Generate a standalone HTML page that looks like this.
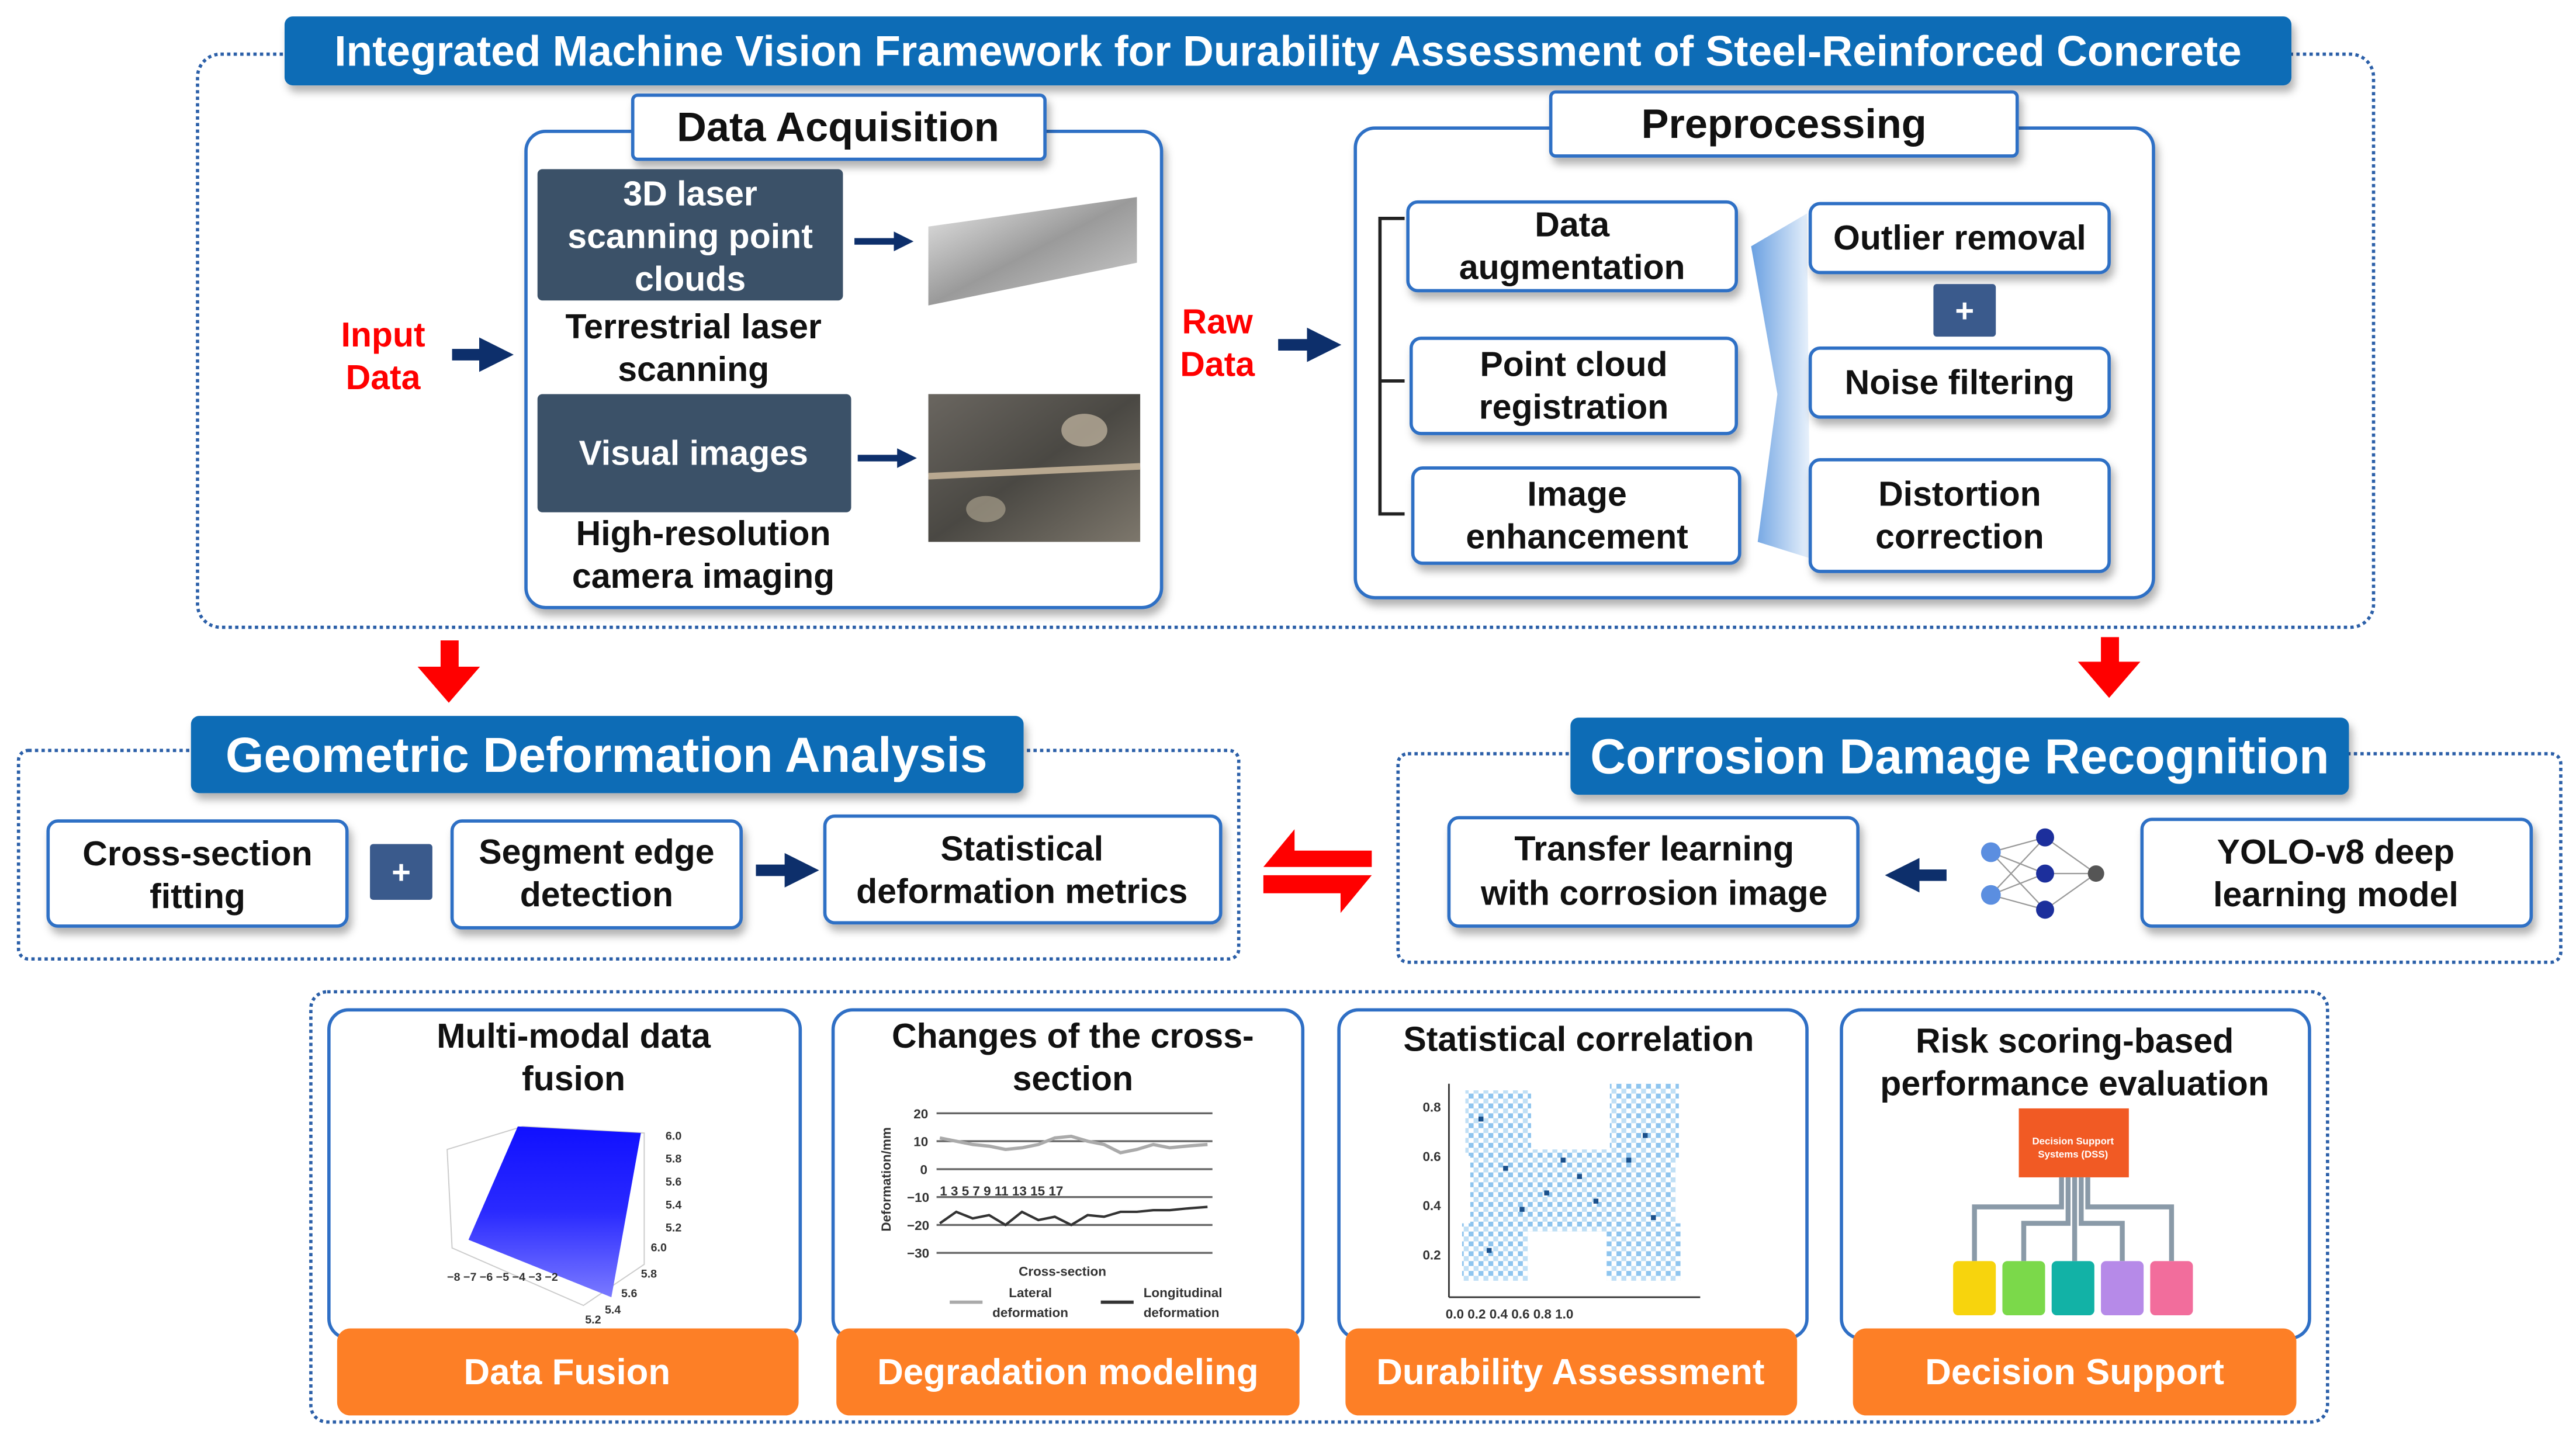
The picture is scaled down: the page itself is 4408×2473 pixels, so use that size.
<!DOCTYPE html>
<html><head><meta charset="utf-8"><style>
html,body{margin:0;padding:0;background:#fff}
svg{display:block}
text{font-family:"Liberation Sans",sans-serif;font-weight:bold}
</style></head><body>
<svg width="4408" height="2473" viewBox="0 0 1568 880" xmlns="http://www.w3.org/2000/svg">
<defs>
<filter id="sh" x="-10%" y="-10%" width="130%" height="140%"><feDropShadow dx="2" dy="4" stdDeviation="2.5" flood-color="#000" flood-opacity="0.3"/></filter>
<linearGradient id="wedge" x1="0" y1="0" x2="1" y2="0"><stop offset="0" stop-color="#4f8fdc"/><stop offset="1" stop-color="#e6f0fb"/></linearGradient>
<linearGradient id="scan" x1="0" y1="0" x2="1" y2="1"><stop offset="0" stop-color="#e8e8e8"/><stop offset="0.5" stop-color="#9a9a9a"/><stop offset="1" stop-color="#d0d0d0"/></linearGradient>
<linearGradient id="photo" x1="0" y1="0" x2="1" y2="1"><stop offset="0" stop-color="#6a6660"/><stop offset="0.5" stop-color="#4a4843"/><stop offset="1" stop-color="#7d776c"/></linearGradient>
<linearGradient id="surf" x1="0" y1="0" x2="0" y2="1"><stop offset="0" stop-color="#1010ff"/><stop offset="0.5" stop-color="#2a2aff"/><stop offset="1" stop-color="#7a7aff"/></linearGradient>
<marker id="ah" viewBox="0 0 10 10" refX="5" refY="5" markerWidth="3" markerHeight="3" orient="auto"><path d="M0,0L10,5L0,10z" fill="#0d2f6b"/></marker>
<pattern id="dots" width="6" height="6" patternUnits="userSpaceOnUse"><rect width="6" height="6" fill="#fff"/><rect x="0" y="0" width="3" height="3" fill="#4da3e6" opacity="0.7"/><rect x="3" y="3" width="3" height="3" fill="#8cc4ef" opacity="0.6"/></pattern>
</defs>

<rect x="120" y="33" width="1325" height="349" rx="14" fill="none" stroke="#2b5fa8" stroke-width="2" stroke-dasharray="2,2"/>
<rect x="173" y="10" width="1222" height="42" rx="5" fill="#0f6cb6" filter="url(#sh)"/>
<text x="784" y="40" text-anchor="middle" font-size="26" fill="#fff">Integrated Machine Vision Framework for Durability Assessment of Steel-Reinforced Concrete</text>

<rect x="320" y="80" width="387" height="290" rx="12" fill="#fff" stroke="#2f6fc5" stroke-width="2" filter="url(#sh)"/>
<rect x="385" y="58" width="251" height="39" rx="3" fill="#fff" stroke="#2f6fc5" stroke-width="2" filter="url(#sh)"/>
<text x="510" y="86" text-anchor="middle" font-size="25" fill="#111">Data Acquisition</text>
<rect x="327" y="103" width="186" height="80" rx="3" fill="#3b5168"/>
<text x="420" y="125" text-anchor="middle" font-size="21" fill="#fff">3D laser</text>
<text x="420" y="151" text-anchor="middle" font-size="21" fill="#fff">scanning point</text>
<text x="420" y="177" text-anchor="middle" font-size="21" fill="#fff">clouds</text>
<text x="422" y="206" text-anchor="middle" font-size="21" fill="#111">Terrestrial laser</text>
<text x="422" y="232" text-anchor="middle" font-size="21" fill="#111">scanning</text>
<rect x="327" y="240" width="191" height="72" rx="3" fill="#3b5168"/>
<text x="422" y="283" text-anchor="middle" font-size="21" fill="#fff">Visual images</text>
<text x="428" y="332" text-anchor="middle" font-size="21" fill="#111">High-resolution</text>
<text x="428" y="358" text-anchor="middle" font-size="21" fill="#111">camera imaging</text>
<line x1="520" y1="147" x2="550" y2="147" stroke="#0d2f6b" stroke-width="4" marker-end="url(#ah)"/>
<line x1="522" y1="279" x2="552" y2="279" stroke="#0d2f6b" stroke-width="4" marker-end="url(#ah)"/>
<polygon points="565,138 692,120 692,160 565,186" fill="url(#scan)"/>
<rect x="565" y="240" width="129" height="90" fill="url(#photo)"/>
<line x1="565" y1="290" x2="694" y2="284" stroke="#b8a890" stroke-width="4"/>
<ellipse cx="660" cy="262" rx="14" ry="10" fill="#c8bba5" opacity="0.7"/>
<ellipse cx="600" cy="310" rx="12" ry="8" fill="#b8ad98" opacity="0.6"/>

<text x="233" y="211" text-anchor="middle" font-size="21" fill="#f00">Input</text>
<text x="233" y="237" text-anchor="middle" font-size="21" fill="#f00">Data</text>
<line x1="275" y1="216" x2="302" y2="216" stroke="#0d2f6b" stroke-width="7" marker-end="url(#ah)"/>
<text x="741" y="203" text-anchor="middle" font-size="21" fill="#f00">Raw</text>
<text x="741" y="229" text-anchor="middle" font-size="21" fill="#f00">Data</text>
<line x1="778" y1="210" x2="806" y2="210" stroke="#0d2f6b" stroke-width="7" marker-end="url(#ah)"/>

<rect x="825" y="78" width="486" height="286" rx="12" fill="#fff" stroke="#2f6fc5" stroke-width="2" filter="url(#sh)"/>
<rect x="944" y="56" width="284" height="39" rx="3" fill="#fff" stroke="#2f6fc5" stroke-width="2" filter="url(#sh)"/>
<text x="1086" y="84" text-anchor="middle" font-size="25" fill="#111">Preprocessing</text>
<path d="M855,133 H840 V313 H855 M840,232 H855" fill="none" stroke="#222" stroke-width="2"/>
<polygon points="1066,150 1100,130 1102,340 1070,330 1082,240" fill="url(#wedge)" opacity="0.85"/>
<g fill="#fff" stroke="#2f6fc5" stroke-width="2" filter="url(#sh)">
<rect x="857" y="123" width="200" height="54" rx="6"/>
<rect x="859" y="206" width="198" height="58" rx="6"/>
<rect x="860" y="285" width="199" height="58" rx="6"/>
<rect x="1102" y="124" width="182" height="42" rx="6"/>
<rect x="1102" y="212" width="182" height="42" rx="6"/>
<rect x="1102" y="280" width="182" height="68" rx="6"/>
</g>
<rect x="1177" y="173" width="38" height="32" rx="2" fill="#3a5a8c"/>
<text x="1196" y="196" text-anchor="middle" font-size="20" fill="#fff">+</text>
<g font-size="21" fill="#111" text-anchor="middle">
<text x="957" y="144">Data</text><text x="957" y="170">augmentation</text>
<text x="958" y="229">Point cloud</text><text x="958" y="255">registration</text>
<text x="960" y="308">Image</text><text x="960" y="334">enhancement</text>
<text x="1193" y="152">Outlier removal</text>
<text x="1193" y="240">Noise filtering</text>
<text x="1193" y="308">Distortion</text><text x="1193" y="334">correction</text>
</g>

<polygon points="268,390 279,390 279,406 292,406 273,428 254,406 268,406" fill="#f00"/>
<polygon points="1279,388 1290,388 1290,403 1303,403 1284,425 1265,403 1279,403" fill="#f00"/>

<rect x="11" y="457" width="743" height="127" rx="6" fill="none" stroke="#2b5fa8" stroke-width="2" stroke-dasharray="2,2"/>
<rect x="116" y="436" width="507" height="47" rx="5" fill="#0f6cb6" filter="url(#sh)"/>
<text x="369" y="470" text-anchor="middle" font-size="30" fill="#fff">Geometric Deformation Analysis</text>
<g fill="#fff" stroke="#2f6fc5" stroke-width="2" filter="url(#sh)">
<rect x="29" y="500" width="182" height="64" rx="6"/>
<rect x="275" y="500" width="176" height="65" rx="6"/>
<rect x="502" y="497" width="241" height="65" rx="6"/>
</g>
<rect x="225" y="514" width="38" height="34" rx="2" fill="#3a5a8c"/>
<text x="244" y="538" text-anchor="middle" font-size="20" fill="#fff">+</text>
<line x1="460" y1="530" x2="488" y2="530" stroke="#0d2f6b" stroke-width="7" marker-end="url(#ah)"/>
<g font-size="21" fill="#111" text-anchor="middle">
<text x="120" y="527">Cross-section</text><text x="120" y="553">fitting</text>
<text x="363" y="526">Segment edge</text><text x="363" y="552">detection</text>
<text x="622" y="524">Statistical</text><text x="622" y="550">deformation metrics</text>
</g>
<polygon points="788,505 788,518 835,518 835,528 769,528" fill="#f00"/>
<polygon points="769,533 835,533 816,556 816,544 769,544" fill="#f00"/>

<rect x="851" y="459" width="708" height="127" rx="6" fill="none" stroke="#2b5fa8" stroke-width="2" stroke-dasharray="2,2"/>
<rect x="956" y="437" width="474" height="47" rx="5" fill="#0f6cb6" filter="url(#sh)"/>
<text x="1193" y="471" text-anchor="middle" font-size="30" fill="#fff">Corrosion Damage Recognition</text>
<g fill="#fff" stroke="#2f6fc5" stroke-width="2" filter="url(#sh)">
<rect x="882" y="498" width="249" height="66" rx="6"/>
<rect x="1304" y="499" width="237" height="65" rx="6"/>
</g>
<g font-size="21" fill="#111" text-anchor="middle">
<text x="1007" y="524">Transfer learning</text><text x="1007" y="551">with corrosion image</text>
<text x="1422" y="526">YOLO-v8 deep</text><text x="1422" y="552">learning model</text>
</g>
<line x1="1185" y1="533" x2="1158" y2="533" stroke="#0d2f6b" stroke-width="7" marker-end="url(#ah)"/>
<g stroke="#999" stroke-width="0.8">
<line x1="1212" y1="519" x2="1245" y2="510"/><line x1="1212" y1="519" x2="1245" y2="532"/><line x1="1212" y1="519" x2="1245" y2="554"/>
<line x1="1212" y1="545" x2="1245" y2="510"/><line x1="1212" y1="545" x2="1245" y2="532"/><line x1="1212" y1="545" x2="1245" y2="554"/>
<line x1="1245" y1="510" x2="1276" y2="532"/><line x1="1245" y1="532" x2="1276" y2="532"/><line x1="1245" y1="554" x2="1276" y2="532"/>
</g>
<circle cx="1212" cy="519" r="6" fill="#5b8ee0"/><circle cx="1212" cy="545" r="6" fill="#5b8ee0"/>
<circle cx="1245" cy="510" r="5.5" fill="#1c2f9c"/><circle cx="1245" cy="532" r="5.5" fill="#1c2f9c"/><circle cx="1245" cy="554" r="5.5" fill="#1c2f9c"/>
<circle cx="1276" cy="532" r="5" fill="#555"/>

<rect x="189" y="604" width="1228" height="262" rx="10" fill="none" stroke="#2b5fa8" stroke-width="2" stroke-dasharray="2,2"/>
<g fill="#fff" stroke="#2f6fc5" stroke-width="2">
<rect x="200" y="615" width="287" height="200" rx="12"/>
<rect x="507" y="615" width="286" height="200" rx="12"/>
<rect x="815" y="615" width="285" height="200" rx="12"/>
<rect x="1121" y="615" width="285" height="200" rx="12"/>
</g>
<g fill="#fd7f26">
<rect x="205" y="809" width="281" height="53" rx="8"/>
<rect x="509" y="809" width="282" height="53" rx="8"/>
<rect x="819" y="809" width="275" height="53" rx="8"/>
<rect x="1128" y="809" width="270" height="53" rx="8"/>
</g>
<g font-size="22" fill="#fff" text-anchor="middle">
<text x="345" y="843">Data Fusion</text>
<text x="650" y="843">Degradation modeling</text>
<text x="956" y="843">Durability Assessment</text>
<text x="1263" y="843">Decision Support</text>
</g>
<g font-size="21" fill="#111" text-anchor="middle">
<text x="349" y="638">Multi-modal data</text><text x="349" y="664">fusion</text>
<text x="653" y="638">Changes of the cross-</text><text x="653" y="664">section</text>
<text x="961" y="640">Statistical correlation</text>
<text x="1263" y="641">Risk scoring-based</text><text x="1263" y="667">performance evaluation</text>
</g>
<g stroke="#ccc" stroke-width="0.7" fill="none">
<polygon points="272,700 318,686 392,690 392,770 355,795 275,760"/>
<line x1="318" y1="686" x2="318" y2="720"/>
</g>
<polygon points="315,686 390,690 372,790 285,755" fill="url(#surf)"/>
<g font-size="7" fill="#333" font-weight="normal">
<text x="405" y="694">6.0</text><text x="405" y="708">5.8</text><text x="405" y="722">5.6</text><text x="405" y="736">5.4</text><text x="405" y="750">5.2</text>
<text x="396" y="762">6.0</text><text x="390" y="778">5.8</text><text x="378" y="790">5.6</text><text x="368" y="800">5.4</text><text x="356" y="806">5.2</text>
<text x="272" y="780">−8 −7 −6 −5 −4 −3 −2</text>
</g>
<g stroke="#666" stroke-width="1.2">
<line x1="570" y1="678" x2="738" y2="678"/><line x1="570" y1="695" x2="738" y2="695"/><line x1="570" y1="712" x2="738" y2="712"/>
<line x1="570" y1="729" x2="738" y2="729"/><line x1="570" y1="746" x2="738" y2="746"/><line x1="570" y1="763" x2="738" y2="763"/>
</g>
<g font-size="8" fill="#333" font-family="Liberation Serif" font-weight="normal">
<text x="556" y="681">20</text><text x="556" y="698">10</text><text x="560" y="715">0</text><text x="552" y="732">−10</text><text x="552" y="749">−20</text><text x="552" y="766">−30</text>
<text x="572" y="728">1    3    5    7    9   11   13   15   17</text>
<text x="620" y="777">Cross-section</text>
<text x="614" y="790">Lateral</text><text x="604" y="802">deformation</text>
<text x="696" y="790">Longitudinal</text><text x="696" y="802">deformation</text>
<text x="542" y="750" transform="rotate(-90 542 750)">Deformation/mm</text>
</g>
<polyline points="572,693 582,695 592,697 602,698 612,700 622,699 632,697 642,693 652,692 662,695 672,697 682,702 692,700 702,697 712,699 722,698 735,697" fill="none" stroke="#aaa" stroke-width="2"/>
<polyline points="572,745 582,738 592,742 602,740 612,746 622,738 632,743 642,741 652,746 662,740 672,741 682,738 692,738 702,737 712,737 722,736 735,735" fill="none" stroke="#333" stroke-width="1.5"/>
<line x1="578" y1="793" x2="598" y2="793" stroke="#aaa" stroke-width="2"/><line x1="670" y1="793" x2="690" y2="793" stroke="#333" stroke-width="2"/>
<line x1="882" y1="660" x2="882" y2="790" stroke="#333"/><line x1="882" y1="790" x2="1035" y2="790" stroke="#333"/>
<g font-size="8" fill="#333" font-weight="normal">
<text x="866" y="677">0.8</text><text x="866" y="707">0.6</text><text x="866" y="737">0.4</text><text x="866" y="767">0.2</text>
<text x="880" y="803">0.0  0.2  0.4  0.6  0.8  1.0</text>
</g>
<g fill="url(#dots)" opacity="0.9">
<rect x="892" y="664" width="40" height="40"/>
<rect x="980" y="660" width="42" height="45"/>
<rect x="895" y="700" width="125" height="50"/>
<rect x="890" y="745" width="40" height="35"/>
<rect x="978" y="745" width="45" height="35"/>
</g>
<g fill="#1a4f8a">
<rect x="915" y="710" width="3" height="3"/><rect x="940" y="725" width="3" height="3"/><rect x="960" y="715" width="3" height="3"/><rect x="990" y="705" width="3" height="3"/><rect x="905" y="760" width="3" height="3"/><rect x="1000" y="690" width="3" height="3"/>
<rect x="925" y="735" width="3" height="3"/><rect x="950" y="705" width="3" height="3"/><rect x="970" y="730" width="3" height="3"/><rect x="1005" y="740" width="3" height="3"/><rect x="900" y="680" width="3" height="3"/>
</g>
<rect x="1229" y="675" width="67" height="42" fill="#f15a24"/>
<text x="1262" y="697" text-anchor="middle" font-size="6" fill="#fff" font-weight="normal">Decision Support</text>
<text x="1262" y="705" text-anchor="middle" font-size="6" fill="#fff" font-weight="normal">Systems (DSS)</text>
<g fill="none" stroke="#8a9aa8" stroke-width="3">
<path d="M1255,717 V735 H1202 V768"/><path d="M1259,717 V745 H1232 V768"/><path d="M1263,717 V768"/><path d="M1267,717 V745 H1292 V768"/><path d="M1271,717 V735 H1322 V768"/>
</g>
<rect x="1189" y="768" width="26" height="33" rx="3" fill="#f7d40d"/>
<rect x="1219" y="768" width="26" height="33" rx="3" fill="#7bd94a"/>
<rect x="1249" y="768" width="26" height="33" rx="3" fill="#12b2a6"/>
<rect x="1279" y="768" width="26" height="33" rx="3" fill="#b68ae8"/>
<rect x="1309" y="768" width="26" height="33" rx="3" fill="#f26d9c"/>
</svg>
</body></html>
